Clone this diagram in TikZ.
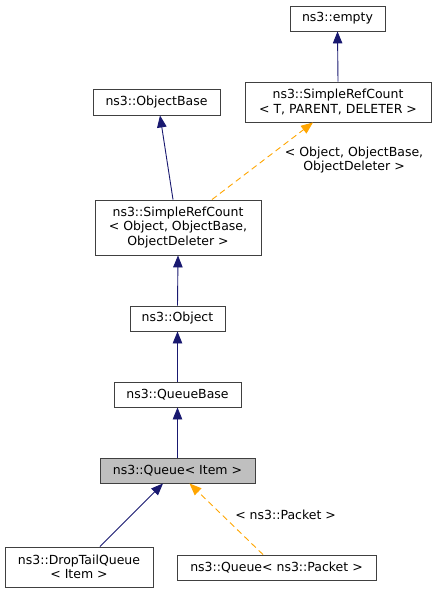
\documentclass[tikz,border=0pt]{standalone}
\usepackage{fontspec}
\setmainfont{DejaVu Sans}
\usetikzlibrary{positioning, arrows.meta}
\definecolor{midblue}{RGB}{25,25,112}
\definecolor{tmplorange}{RGB}{255,165,0}
\definecolor{boxline}{RGB}{64,64,64}
\definecolor{curfill}{RGB}{191,191,191}

\begin{document}
\begin{tikzpicture}[x=1pt, y=-1pt,
    cls/.style={draw=boxline, line width=0.9pt, fill=white, inner sep=1pt,
      align=center, minimum height=25pt},
    cur/.style={cls, fill=curfill},
    inh/.style={midblue, line width=0.9pt,
      -{Triangle[length=12pt, width=9.5pt]}},
    tmpl/.style={tmplorange, line width=0.9pt, dash pattern=on 6pt off 4pt,
      -{Triangle[length=12pt, width=9.5pt]}},
    lbl/.style={align=center, inner sep=0pt, text=black}]
    \fontsize{12.5}{14.5}\selectfont
    \useasboundingbox (0,0) rectangle (437,593);
    \node[cls, minimum width=95pt] (empty) at (337.5,18.5) {ns3::empty};
    \node[cls, minimum width=186pt, minimum height=40pt] (srcT) at (338,102)
      {ns3::SimpleRefCount\\< T, PARENT, DELETER >};
    \node[cls, minimum width=127pt, minimum height=26pt] (objbase) at (156.5,102) {ns3::ObjectBase};
    \node[cls, minimum width=166pt, minimum height=55pt] (srcO) at (178,227.5)
      {ns3::SimpleRefCount\\< Object, ObjectBase,\\ObjectDeleter >};
    \node[cls, minimum width=95pt] (object) at (177.5,318.5) {ns3::Object};
    \node[cls, minimum width=127pt] (qbase) at (177.5,394.5) {ns3::QueueBase};
    \node[cur, minimum width=155pt] (queue) at (177.5,470.5) {ns3::Queue< Item >};
    \node[cls, minimum width=148pt, minimum height=40pt] (droptail) at (79,567)
      {ns3::DropTailQueue\\< Item >};
    \node[cls, minimum width=199pt] (qpacket) at (276.5,567.5) {ns3::Queue< ns3::Packet >};
    \path
    (srcT.north) edge[inh] (empty.south)
    ([xshift=-5pt]srcO.north) edge[inh] ([xshift=3.5pt]objbase.south)
    ([xshift=34pt]srcO.north) edge[tmpl] node[lbl, pos=0.51, anchor=west, xshift=21pt]
      {< Object, ObjectBase,\\ObjectDeleter >} ([xshift=-25pt]srcT.south)
    (object.north) edge[inh] (srcO.south)
    (qbase.north) edge[inh] (object.south)
    (queue.north) edge[inh] (qbase.south)
    ([xshift=21pt]droptail.north) edge[inh] ([xshift=-14.5pt]queue.south)
    ([xshift=-13.5pt]qpacket.north) edge[tmpl] node[lbl, pos=0.56, anchor=west, xshift=13pt]
      {< ns3::Packet >} ([xshift=12pt]queue.south);
\end{tikzpicture}
\end{document}
